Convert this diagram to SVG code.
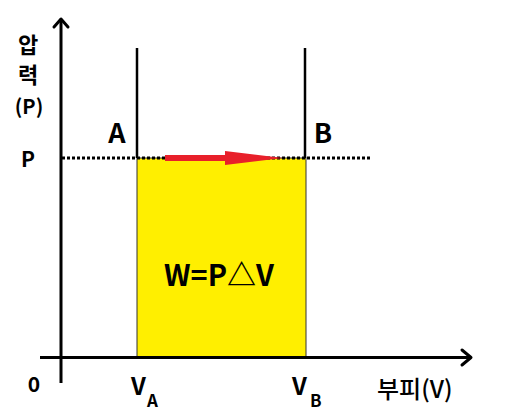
<svg xmlns="http://www.w3.org/2000/svg" width="512" height="417" viewBox="0 0 512 417">
<style>
.t{font-family:"Noto Sans CJK KR","Noto Sans",sans-serif;font-weight:bold;fill:#000;}
.ax{stroke:#000;stroke-width:3;fill:none;}
.ah{stroke:#000;stroke-width:3;fill:none;stroke-linecap:round;stroke-linejoin:round;}
</style>
<rect width="512" height="417" fill="#fff"/>
<g id="area">
<rect x="137" y="158" width="169" height="199" fill="#ffef00" stroke="#333" stroke-width="1"/>
</g>
<g id="connectors">
<line class="ax" x1="61" y1="20" x2="61" y2="383"/>
<polyline class="ah" points="54,27 61,19 68,27"/>
<line class="ax" x1="40" y1="357.5" x2="470" y2="357.5"/>
<polyline class="ah" points="462,350 471,357.5 462,365"/>
<line x1="137" y1="48" x2="137" y2="158" stroke="#000" stroke-width="2.5"/>
<line x1="305" y1="48" x2="305" y2="158" stroke="#000" stroke-width="2.5"/>
<line x1="62" y1="158" x2="372" y2="158" stroke="#000" stroke-width="3" stroke-dasharray="3,2"/>
<rect x="165" y="155" width="62" height="6" fill="#e8202a"/>
<polygon points="225,151 283,158 225,165" fill="#e8202a"/>
</g>
<g id="labels">
<text class="t" x="28" y="53" font-size="22" text-anchor="middle">압</text>
<text class="t" x="28" y="83" font-size="22" text-anchor="middle">력</text>
<text class="t" x="29" y="114" font-size="20" text-anchor="middle">(P)</text>
<text class="t" x="28" y="167" font-size="21" text-anchor="middle">P</text>
<text class="t" x="117" y="143" font-size="27" text-anchor="middle">A</text>
<text class="t" x="323" y="143" font-size="27" text-anchor="middle">B</text>
<text class="t" x="34" y="392" font-size="21" text-anchor="middle">0</text>
<text class="t" x="131" y="395" font-size="24">V</text>
<text class="t" x="147" y="407" font-size="17">A</text>
<text class="t" x="292" y="395" font-size="24">V</text>
<text class="t" x="310" y="407" font-size="17">B</text>
<text x="377" y="398" font-size="24" font-family="Noto Sans CJK KR, Noto Sans, sans-serif" font-weight="500" fill="#000">부피(V)</text>
<text class="t" x="219" y="286" font-size="29" text-anchor="middle">W=P△V</text>
</g>
</svg>
